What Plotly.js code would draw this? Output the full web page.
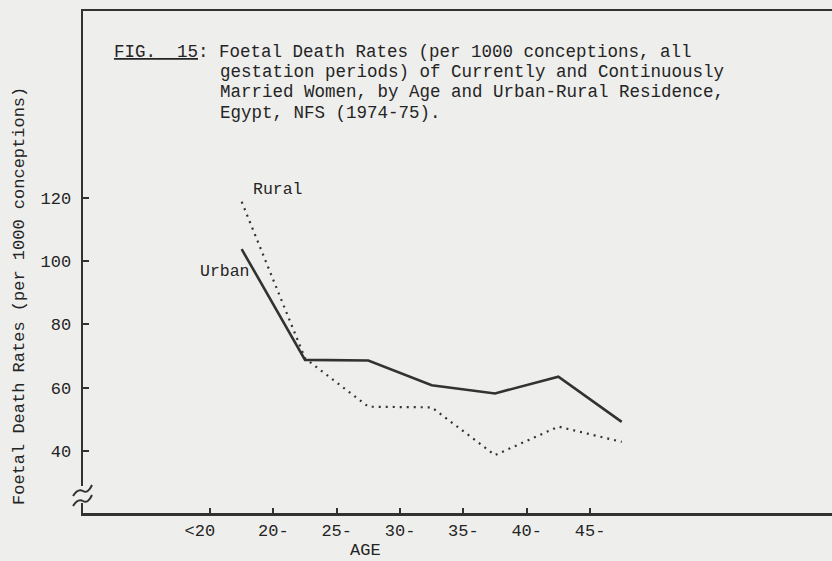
<!DOCTYPE html>
<html>
<head>
<meta charset="utf-8">
<script src="https://cdn.plot.ly/plotly-3.0.1.min.js"></script>
<style>
  html, body { margin: 0; padding: 0; background: #eeeeec; }
  #chart { width: 832px; height: 561px; }
</style>
</head>
<body>
<div id="chart"></div>
<script>
// Age groups of the women (x axis categories)
const ageGroups = ['<20', '20-', '25-', '30-', '35-', '40-', '45-'];
// Foetal death rates per 1000 conceptions
const urbanRates = [103.8, 68.8, 68.6, 60.8, 58.2, 63.5, 49.2];
const ruralRates = [118.8, 69.3, 54.0, 53.8, 38.7, 47.7, 42.9];
const yTicks = [40, 60, 80, 100, 120];
const captionLines = [
  '<u>FIG.  15</u>: Foetal Death Rates (per 1000 conceptions, all',
  'gestation periods) of Currently and Continuously',
  'Married Women, by Age and Urban-Rural Residence,',
  'Egypt, NFS (1974-75).'
];
const yTitle = 'Foetal Death Rates (per 1000 conceptions)';
const xTitle = 'AGE';

// Layout geometry (pixels)
const W = 832, H = 561;
const M = { l: 83, r: 0, t: 11, b: 48 };
const plotW = W - M.l - M.r, plotH = H - M.t - M.b;
const px = x => (x - M.l) / plotW;          // page x -> paper fraction
const py = y => (H - M.b - y) / plotH;      // page y -> paper fraction

const INK = '#323232';
const TEXT = '#242424';
const BG = '#eeeeec';
const FONT = '"Liberation Mono", "DejaVu Sans Mono", monospace';
const nb = s => s.replace(/ /g, '\u00a0');

// Each rate belongs to the middle of its age interval
const tickIdx = ageGroups.map((_, i) => i);
const mid = ageGroups.map((_, i) => i + 0.5);
// the first label sits a little left of its tick
const tickText = ageGroups.map((g, i) => i === 0 ? g + '\u00a0\u00a0' : g);

const traces = [
  {
    x: mid, y: urbanRates, name: 'Urban', type: 'scatter', mode: 'lines',
    line: { color: INK, width: 2.6 }
  },
  {
    x: mid, y: ruralRates, name: 'Rural', type: 'scatter', mode: 'lines',
    line: { color: INK, width: 2.2, dash: '2px,5px' }
  }
];

const annotations = captionLines.map((t, i) => ({
  text: nb(t), xref: 'paper', yref: 'paper',
  x: px(i === 0 ? 112 : 218), y: py(52 + i * 20.2),
  xanchor: 'left', yanchor: 'middle', showarrow: false,
  font: { family: FONT, size: 17.5, color: TEXT }
}));

annotations.push(
  { text: 'Rural', x: 1.066, y: 122.8, xref: 'x', yref: 'y', showarrow: false,
    xanchor: 'center', yanchor: 'middle', font: { family: FONT, size: 16.5, color: TEXT } },
  { text: 'Urban', x: 0.229, y: 96.6, xref: 'x', yref: 'y', showarrow: false,
    xanchor: 'center', yanchor: 'middle', font: { family: FONT, size: 16.5, color: TEXT } },
  { text: xTitle, xref: 'paper', yref: 'paper', x: px(365), y: py(550),
    xanchor: 'center', yanchor: 'middle', showarrow: false,
    font: { family: FONT, size: 17, color: TEXT } },
  { text: yTitle, xref: 'paper', yref: 'paper', x: px(20), y: py(296),
    xanchor: 'center', yanchor: 'middle', textangle: -90, showarrow: false,
    font: { family: FONT, size: 17, color: TEXT } }
);

// Axis break on the value axis, drawn in pixels from the axes corner
const brk = { xref: 'paper', yref: 'paper', xsizemode: 'pixel', ysizemode: 'pixel',
              xanchor: 0, yanchor: 0, layer: 'above' };
const shapes = [
  Object.assign({}, brk, { type: 'rect', x0: -5, x1: 5, y0: 10, y1: 27,
    fillcolor: BG, line: { width: 0 } }),
  Object.assign({}, brk, { type: 'path', path: 'M-10,17 Q-5,25 0,22 T9,28',
    line: { color: INK, width: 2 } }),
  Object.assign({}, brk, { type: 'path', path: 'M-10,7 Q-5,15 0,12 T9,18',
    line: { color: INK, width: 2 } })
];

const layout = {
  width: W, height: H,
  margin: M,
  paper_bgcolor: BG, plot_bgcolor: BG,
  showlegend: false,
  font: { family: FONT, color: TEXT },
  xaxis: {
    range: [-2.005, 9.82], tickvals: tickIdx, ticktext: tickText,
    showgrid: false, zeroline: false,
    showline: true, linecolor: INK, linewidth: 2.5, mirror: true,
    ticks: 'inside', ticklen: 5, tickwidth: 2, tickcolor: INK,
    tickfont: { family: FONT, size: 17, color: TEXT }
  },
  yaxis: {
    range: [20.4, 179.1], tickvals: yTicks,
    showgrid: false, zeroline: false,
    showline: true, linecolor: INK, linewidth: 2.5,
    ticks: 'inside', ticklen: 6, tickwidth: 2, tickcolor: INK,
    ticklabelstandoff: 6,
    tickfont: { family: FONT, size: 17, color: TEXT }
  },
  annotations: annotations,
  shapes: shapes
};

Plotly.newPlot('chart', traces, layout, { displayModeBar: false, staticPlot: true });
</script>
</body>
</html>
